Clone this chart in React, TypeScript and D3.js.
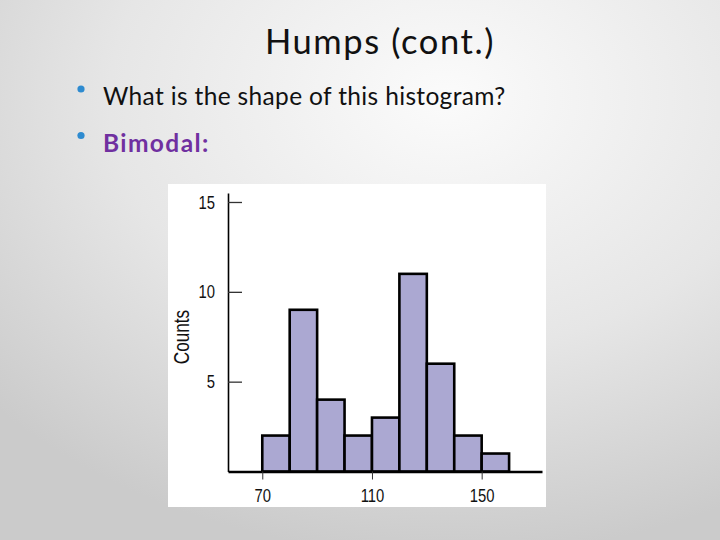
import { useEffect, useRef } from "react";
import * as d3 from "d3";

// histogram bins (lower edge) and counts
const binStarts = [70, 80, 90, 100, 110, 120, 130, 140, 150];
const binWidth = 10;
const counts = [2, 9, 4, 2, 3, 11, 6, 2, 1];
const xTicks = [70, 110, 150];
const yTicks = [5, 10, 15];

const title = "Humps (cont.)";
const bullets = ["What is the shape of this histogram?", "Bimodal:"];

const W = 720;
const H = 540;
const SQUEEZE = 0.78; // condensed look of the chart lettering

const App = () => {
  const svgRef = useRef(null);

  useEffect(() => {
    const svg = d3.select(svgRef.current);
    svg.selectAll("*").remove();

    // background gradient
    const defs = svg.append("defs");
    const grad = defs
      .append("radialGradient")
      .attr("id", "bg")
      .attr("cx", "62%")
      .attr("cy", "18%")
      .attr("r", "85%");
    grad.append("stop").attr("offset", "0%").attr("stop-color", "#fbfbfb");
    grad.append("stop").attr("offset", "55%").attr("stop-color", "#e6e6e6");
    grad.append("stop").attr("offset", "100%").attr("stop-color", "#cbcbcb");
    svg.append("rect").attr("width", W).attr("height", H).attr("fill", "url(#bg)");

    // slide text
    svg
      .append("text")
      .attr("x", 380)
      .attr("y", 54)
      .attr("text-anchor", "middle")
      .attr("font-family", "Lato")
      .attr("font-size", 34.5)
      .attr("letter-spacing", 1.6)
      .attr("fill", "#111")
      .text(title);

    bullets.forEach((b, i) => {
      const y = 105 + i * 46.5;
      svg
        .append("circle")
        .attr("cx", 81)
        .attr("cy", y - 16)
        .attr("r", 3.6)
        .attr("fill", "#2e8bd0");
      svg
        .append("text")
        .attr("x", 103)
        .attr("y", y)
        .attr("font-family", "Lato")
        .attr("font-size", 24.5)
        .attr("letter-spacing", i === 1 ? 1.4 : 0.35)
        .attr("font-weight", i === 1 ? "bold" : "normal")
        .attr("fill", i === 1 ? "#7030a0" : "#111")
        .text(b);
    });

    // chart panel
    svg
      .append("rect")
      .attr("x", 168)
      .attr("y", 184)
      .attr("width", 378)
      .attr("height", 323)
      .attr("fill", "#fff");

    const font = "'Liberation Sans', Arial, sans-serif";
    const xScale = d3.scaleLinear().domain([57.5, 172]).range([228, 542]);
    const yScale = d3.scaleLinear().domain([0, 15.5]).range([471.5, 193]);

    // bars
    svg
      .append("g")
      .selectAll("rect")
      .data(counts)
      .join("rect")
      .attr("x", (d, i) => xScale(binStarts[i]))
      .attr("width", (d, i) => xScale(binStarts[i] + binWidth) - xScale(binStarts[i]))
      .attr("y", (d) => yScale(d))
      .attr("height", (d) => yScale(0) - yScale(d))
      .attr("fill", "#aba8d2")
      .attr("stroke", "#000")
      .attr("stroke-width", 2.6);

    // y axis
    const yAxis = d3.axisLeft(yScale).tickValues(yTicks).tickSize(-14).tickSizeOuter(0).tickPadding(13);
    const gy = svg.append("g").attr("transform", "translate(228,0)").call(yAxis);
    gy.select(".domain").attr("stroke", "#000").attr("stroke-width", 1.6);
    gy.selectAll(".tick line").attr("stroke", "#333").attr("stroke-width", 1.3);
    gy.selectAll(".tick text")
      .attr("font-family", font)
      .attr("font-size", 19)
      .attr("fill", "#111")
      .attr("transform", `translate(-13,0) scale(${SQUEEZE},1) translate(13,0)`);

    // x axis
    const xAxis = d3.axisBottom(xScale).tickValues(xTicks).tickSize(8).tickSizeOuter(0).tickPadding(9);
    const gx = svg.append("g").attr("transform", "translate(0,471.5)").call(xAxis);
    gx.select(".domain").attr("stroke", "#000").attr("stroke-width", 2.5);
    gx.selectAll(".tick line").attr("stroke", "#333").attr("stroke-width", 1);
    gx.selectAll(".tick text")
      .attr("font-family", font)
      .attr("font-size", 19)
      .attr("fill", "#111")
      .attr("transform", `scale(${SQUEEZE},1)`);

    // y label
    svg
      .append("text")
      .attr("transform", `translate(189,337) rotate(-90) scale(${SQUEEZE},1)`)
      .attr("text-anchor", "middle")
      .attr("font-family", font)
      .attr("font-size", 22)
      .attr("fill", "#111")
      .text("Counts");
  }, []);

  return (
    <div style={{ position: "absolute", left: 0, top: 0 }}>
      <svg ref={svgRef} width={W} height={H} style={{ display: "block" }}></svg>
    </div>
  );
};

export default App;
